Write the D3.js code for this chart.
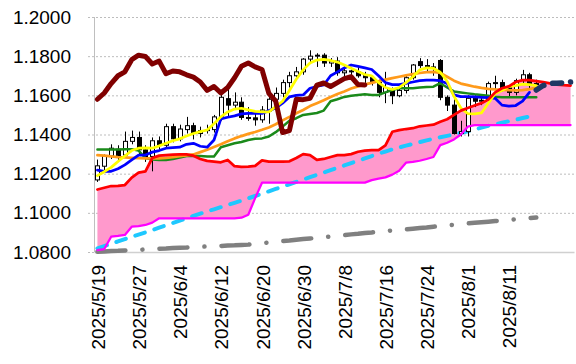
<!DOCTYPE html>
<html>
<head>
<meta charset="utf-8">
<script src="https://cdn.jsdelivr.net/npm/d3@7"></script>
<style>
  body { margin: 0; background: #fff; }
  svg { display: block; }
  text { font-family: "Liberation Sans", Arial, sans-serif; }
</style>
</head>
<body>
<div id="chart"></div>
<script>
// trading days (last 5 are the future part of the cloud)
var dates = ["2025/5/19","2025/5/20","2025/5/21","2025/5/22","2025/5/23","2025/5/26","2025/5/27","2025/5/28","2025/5/29","2025/5/30",
  "2025/6/2","2025/6/3","2025/6/4","2025/6/5","2025/6/6","2025/6/9","2025/6/10","2025/6/11","2025/6/12","2025/6/13",
  "2025/6/16","2025/6/17","2025/6/18","2025/6/19","2025/6/20","2025/6/23","2025/6/24","2025/6/25","2025/6/26","2025/6/27",
  "2025/6/30","2025/7/1","2025/7/2","2025/7/3","2025/7/4","2025/7/7","2025/7/8","2025/7/9","2025/7/10","2025/7/11",
  "2025/7/14","2025/7/15","2025/7/16","2025/7/17","2025/7/18","2025/7/21","2025/7/22","2025/7/23","2025/7/24","2025/7/25",
  "2025/7/28","2025/7/29","2025/7/30","2025/7/31","2025/8/1","2025/8/4","2025/8/5","2025/8/6","2025/8/7","2025/8/8",
  "2025/8/11","2025/8/12","2025/8/13","2025/8/14","2025/8/15","2025/8/18","2025/8/19","2025/8/20","2025/8/21","2025/8/22"];
var tickIdx = [0, 6, 12, 18, 24, 30, 36, 42, 48, 54, 60];
var yTicks = [1.08, 1.10, 1.12, 1.14, 1.16, 1.18, 1.20];

// candles
var open = [1.1168,1.1238,1.1290,1.1325,1.1295,1.1365,1.1385,1.1322,1.1288,1.1368,
  1.1345,1.1440,1.1378,1.1425,1.1445,1.1405,1.1420,1.1425,1.1488,1.1583,
  1.1550,1.1565,1.1487,1.1485,1.1475,1.1520,1.1580,1.1610,1.1665,1.1700,
  1.1720,1.1785,1.1800,1.1805,1.1765,1.1775,1.1715,1.1725,1.1720,1.1700,
  1.1690,1.1665,1.1615,1.1627,1.1598,1.1625,1.1690,1.1772,1.1752,1.1740,
  1.1778,1.1590,1.1550,1.1405,1.1415,1.1585,1.1570,1.1575,1.1660,1.1665,
  1.1640,1.1615,1.1675,1.1705,1.1660];
var high = [1.1272,1.1298,1.1350,1.1345,1.1415,1.1420,1.1415,1.1345,1.1385,1.1390,
  1.1455,1.1455,1.1450,1.1490,1.1460,1.1440,1.1450,1.1500,1.1628,1.1632,
  1.1615,1.1590,1.1540,1.1510,1.1545,1.1600,1.1640,1.1680,1.1720,1.1745,
  1.1790,1.1830,1.1815,1.1815,1.1790,1.1795,1.1760,1.1745,1.1750,1.1720,
  1.1700,1.1680,1.1720,1.1640,1.1650,1.1705,1.1760,1.1790,1.1785,1.1765,
  1.1785,1.1600,1.1580,1.1470,1.1600,1.1600,1.1600,1.1670,1.1700,1.1680,
  1.1650,1.1685,1.1730,1.1715,1.1680];
var low = [1.1158,1.1210,1.1275,1.1265,1.1280,1.1350,1.1300,1.1260,1.1212,1.1320,
  1.1335,1.1360,1.1365,1.1405,1.1375,1.1385,1.1405,1.1410,1.1470,1.1490,
  1.1525,1.1475,1.1470,1.1445,1.1460,1.1455,1.1570,1.1590,1.1640,1.1690,
  1.1705,1.1770,1.1745,1.1745,1.1745,1.1700,1.1690,1.1685,1.1690,1.1660,
  1.1650,1.1590,1.1560,1.1555,1.1590,1.1610,1.1680,1.1740,1.1715,1.1700,
  1.1575,1.1520,1.1400,1.1390,1.1390,1.1540,1.1550,1.1560,1.1630,1.1620,
  1.1590,1.1600,1.1660,1.1630,1.1645];
var close = [1.1240,1.1290,1.1330,1.1288,1.1365,1.1385,1.1322,1.1285,1.1368,1.1345,
  1.1440,1.1378,1.1428,1.1445,1.1405,1.1420,1.1425,1.1490,1.1590,1.1550,
  1.1565,1.1487,1.1485,1.1475,1.1525,1.1580,1.1610,1.1665,1.1700,1.1720,
  1.1785,1.1800,1.1805,1.1765,1.1775,1.1715,1.1725,1.1720,1.1700,1.1690,
  1.1665,1.1615,1.1640,1.1598,1.1625,1.1690,1.1755,1.1752,1.1740,1.1745,
  1.1590,1.1550,1.1405,1.1415,1.1585,1.1570,1.1575,1.1660,1.1665,1.1640,
  1.1615,1.1675,1.1705,1.1660,1.1655];

// lines
var yellowLine = [1.1190,1.1210,1.1232,1.1262,1.1290,1.1318,1.1330,1.1332,1.1330,1.1342,
  1.1355,1.1368,1.1378,1.1392,1.1405,1.1415,1.1423,1.1455,1.1490,1.1515,
  1.1530,1.1534,1.1526,1.1518,1.1515,1.1516,1.1542,1.1570,1.1625,1.1682,
  1.1730,1.1765,1.1780,1.1784,1.1778,1.1770,1.1755,1.1738,1.1722,1.1706,
  1.1700,1.1665,1.1640,1.1630,1.1640,1.1665,1.1695,1.1730,1.1740,1.1738,
  1.1718,1.1672,1.1595,1.1535,1.1507,1.1505,1.1510,1.1560,1.1610,1.1625,
  1.1645,1.1650,1.1657,1.1655,1.1650];
var blueLine = [1.1218,1.1212,1.1212,1.1225,1.1245,1.1270,1.1295,1.1295,1.1310,1.1318,
  1.1330,1.1333,1.1335,1.1350,1.1355,1.1340,1.1335,1.1372,1.1480,1.1488,
  1.1495,1.1505,1.1508,1.1508,1.1508,1.1522,1.1535,1.1560,1.1592,1.1600,
  1.1602,1.1636,1.1645,1.1653,1.1700,1.1720,1.1740,1.1755,1.1748,1.1740,
  1.1732,1.1700,1.1665,1.1655,1.1655,1.1661,1.1668,1.1675,1.1678,1.1678,
  1.1675,1.1660,1.1602,1.1593,1.1593,1.1592,1.1590,1.1588,1.1585,1.1550,
  1.1545,1.1548,1.1570,1.1615];
var greenLine = [1.1323,1.1323,1.1323,1.1323,1.1325,1.1325,1.1318,1.1280,1.1272,1.1270,
  1.1270,1.1275,1.1282,1.1290,1.1290,1.1290,1.1288,1.1288,1.1335,1.1345,
  1.1355,1.1362,1.1372,1.1378,1.1380,1.1390,1.1412,1.1440,1.1470,1.1483,
  1.1500,1.1505,1.1510,1.1522,1.1570,1.1580,1.1592,1.1598,1.1602,1.1605,
  1.1602,1.1602,1.1615,1.1627,1.1636,1.1636,1.1636,1.1640,1.1642,1.1644,
  1.1662,1.1640,1.1620,1.1615,1.1610,1.1605,1.1602,1.1598,1.1593,1.1590,
  1.1590,1.1590,1.1590,1.1590,1.1590];
var orangeLine = [1.1295,1.1292,1.1288,1.1285,1.1283,1.1281,1.1279,1.1278,1.1278,1.1278,
  1.1280,1.1284,1.1289,1.1293,1.1298,1.1310,1.1322,1.1336,1.1350,1.1366,
  1.1380,1.1392,1.1403,1.1413,1.1424,1.1436,1.1452,1.1472,1.1490,1.1508,
  1.1525,1.1545,1.1560,1.1575,1.1592,1.1607,1.1620,1.1635,1.1646,1.1656,
  1.1664,1.1672,1.1680,1.1688,1.1695,1.1702,1.1708,1.1714,1.1718,1.1720,
  1.1714,1.1695,1.1675,1.1660,1.1652,1.1644,1.1638,1.1633,1.1630,1.1628,
  1.1626,1.1625,1.1627,1.1632,1.1640];
var chikou = [1.1580,1.1612,1.1660,1.1700,1.1720,1.1782,1.1805,1.1798,1.1760,1.1775,
  1.1710,1.1724,1.1720,1.1705,1.1693,1.1668,1.1625,1.1645,1.1612,1.1640,
  1.1690,1.1748,1.1765,1.1745,1.1732,1.1610,1.1570,1.1410,1.1420,1.1580,
  1.1578,1.1585,1.1652,1.1663,1.1645,1.1665,1.1685,1.1695,1.1655,1.1653];
var spanA = [1.1119,1.1128,1.1137,1.1138,1.1142,1.1180,1.1205,1.1212,1.1280,1.1292,
  1.1295,1.1297,1.1298,1.1298,1.1292,1.1275,1.1265,1.1262,1.1258,1.1270,
  1.1238,1.1235,1.1236,1.1240,1.1268,1.1262,1.1262,1.1262,1.1263,1.1280,
  1.1300,1.1295,1.1270,1.1275,1.1285,1.1295,1.1295,1.1300,1.1312,1.1318,
  1.1320,1.1320,1.1345,1.1414,1.1422,1.1428,1.1432,1.1442,1.1446,1.1450,
  1.1465,1.1478,1.1500,1.1522,1.1535,1.1548,1.1560,1.1578,1.1615,1.1636,
  1.1646,1.1668,1.1678,1.1678,1.1673,1.1668,1.1661,1.1655,1.1652,1.1650];
var spanB = [1.0810,1.0815,1.0878,1.0882,1.0887,1.0929,1.0932,1.0938,1.0950,1.0972,
  1.0972,1.0972,1.0972,1.0972,1.0972,1.0972,1.0972,1.0972,1.0972,1.0972,
  1.0972,1.0975,1.0990,1.1075,1.1154,1.1154,1.1154,1.1154,1.1154,1.1154,
  1.1154,1.1154,1.1154,1.1154,1.1154,1.1154,1.1154,1.1154,1.1154,1.1154,
  1.1167,1.1175,1.1181,1.1195,1.1215,1.1256,1.1260,1.1266,1.1275,1.1285,
  1.1346,1.1358,1.1375,1.1400,1.1440,1.1448,1.1448,1.1448,1.1448,1.1448,
  1.1448,1.1448,1.1448,1.1448,1.1448,1.1448,1.1448,1.1448,1.1448,1.1448];
var cyanLine = [1.0818,1.0830,1.0842,1.0854,1.0866,1.0878,1.0889,1.0900,1.0912,1.0924,
  1.0936,1.0948,1.0960,1.0972,1.0984,1.0996,1.1007,1.1018,1.1029,1.1040,
  1.1051,1.1062,1.1074,1.1086,1.1098,1.1110,1.1122,1.1134,1.1146,1.1158,
  1.1170,1.1182,1.1194,1.1206,1.1218,1.1230,1.1242,1.1254,1.1266,1.1278,
  1.1290,1.1302,1.1313,1.1324,1.1334,1.1343,1.1352,1.1361,1.1370,1.1378,
  1.1386,1.1393,1.1400,1.1408,1.1416,1.1425,1.1435,1.1444,1.1452,1.1460,
  1.1468,1.1476,1.1484,1.1492,1.1500];
var grayLine = [1.0801,1.0803,1.0805,1.0806,1.0808,1.0810,1.0811,1.0813,1.0815,1.0817,
  1.0818,1.0820,1.0822,1.0823,1.0825,1.0827,1.0828,1.0830,1.0831,1.0833,
  1.0834,1.0836,1.0838,1.0842,1.0845,1.0849,1.0852,1.0856,1.0859,1.0863,
  1.0866,1.0869,1.0872,1.0876,1.0879,1.0883,1.0886,1.0890,1.0893,1.0897,
  1.0900,1.0904,1.0907,1.0910,1.0913,1.0916,1.0919,1.0922,1.0925,1.0929,
  1.0932,1.0936,1.0939,1.0943,1.0946,1.0949,1.0952,1.0955,1.0958,1.0961,
  1.0964,1.0967,1.0970,1.0973,1.0976];
var navyStart = 64;
var navyLine = [1.1627,1.1650,1.1661,1.1662,1.1664,1.1668];

var width = 576, height = 364;
var plot = { left: 94, right: 574, top: 17, bottom: 252 };

var svg = d3.select("#chart").append("svg")
  .attr("width", width)
  .attr("height", height);

var x = d3.scaleBand()
  .domain(d3.range(dates.length))
  .range([plot.left, plot.right]);
var cx = function(i) { return x(i) + x.bandwidth() / 2; };

var y = d3.scaleLinear()
  .domain([1.08, 1.20])
  .range([plot.bottom, plot.top]);

// grid + y labels
var yAxis = d3.axisLeft(y)
  .tickValues(yTicks)
  .tickFormat(d3.format(".4f"))
  .tickSize(-(plot.right + 1 - 88))
  .tickPadding(17);
var gy = svg.append("g")
  .attr("transform", "translate(88,0)")
  .call(yAxis);
gy.select(".domain").remove();
gy.selectAll("line")
  .attr("stroke", "#bdbdbd")
  .attr("stroke-dasharray", "2,2");
gy.selectAll("text")
  .attr("fill", "#000")
  .style("font-size", "19px");

// x axis
var xAxis = d3.axisBottom(x)
  .tickValues(tickIdx)
  .tickFormat(function(i) { return dates[i]; })
  .tickSize(0)
  .tickSizeOuter(0);
var gx = svg.append("g")
  .attr("transform", "translate(0," + plot.bottom + ")")
  .call(xAxis);
gx.select(".domain").attr("stroke", "#d0d0d0").attr("stroke-width", 1.5);
gx.selectAll("text")
  .attr("transform", "rotate(-90)")
  .attr("x", -13)
  .attr("y", 0)
  .attr("dy", "0.4em")
  .attr("fill", "#000")
  .style("text-anchor", "end")
  .style("font-size", "19px");

svg.append("line")
  .attr("x1", plot.left + 0.5).attr("x2", plot.left + 0.5)
  .attr("y1", plot.top).attr("y2", plot.bottom)
  .attr("stroke", "#bfbfbf");

// cloud
var cloud = d3.area()
  .x(function(d, i) { return cx(i); })
  .y0(function(d, i) { return y(spanB[i]); })
  .y1(function(d) { return y(d); });
svg.append("path")
  .datum(spanA)
  .attr("d", cloud)
  .attr("fill", "#ff99cc");

function drawLine(values, start, color, w, dash) {
  var line = d3.line()
    .x(function(d, i) { return cx(i + start); })
    .y(function(d) { return y(d); });
  return svg.append("path")
    .datum(values)
    .attr("d", line)
    .attr("fill", "none")
    .attr("stroke", color)
    .attr("stroke-width", w)
    .attr("stroke-linejoin", "round")
    .attr("stroke-linecap", "round")
    .attr("stroke-dasharray", dash || null);
}

drawLine(grayLine, 0, "#808080", 4.5, "28,17,0.1,17");
drawLine(cyanLine, 0, "#1ec8ff", 4, "10,10");

// candles
var bw = 4;
var candles = svg.append("g").selectAll("g")
  .data(open)
  .enter().append("g");
candles.append("line")
  .attr("x1", function(d, i) { return Math.round(cx(i)) + 0.5; })
  .attr("x2", function(d, i) { return Math.round(cx(i)) + 0.5; })
  .attr("y1", function(d, i) { return y(high[i]); })
  .attr("y2", function(d, i) { return y(low[i]); })
  .attr("stroke", "#000");
candles.append("rect")
  .attr("x", function(d, i) { return Math.round(cx(i)) + 0.5 - bw / 2; })
  .attr("y", function(d, i) { return y(Math.max(open[i], close[i])); })
  .attr("width", bw)
  .attr("height", function(d, i) { return Math.max(1, Math.abs(y(open[i]) - y(close[i]))); })
  .attr("fill", function(d, i) { return close[i] >= open[i] ? "#fff" : "#000"; })
  .attr("stroke", "#000");

drawLine(greenLine, 0, "#1a8a1a", 2.5);
drawLine(orangeLine, 0, "#ff9a1a", 2.75);
drawLine(blueLine, 0, "#0000ff", 2.75);
drawLine(yellowLine, 0, "#ffff00", 2.75);
drawLine(spanB, 0, "#ff00ff", 2.25);
drawLine(spanA, 0, "#ff0000", 2.75);
drawLine(chikou, 0, "#800000", 5);
drawLine(navyLine, navyStart, "#1f3864", 5.5, "9,9");
</script>
</body>
</html>
